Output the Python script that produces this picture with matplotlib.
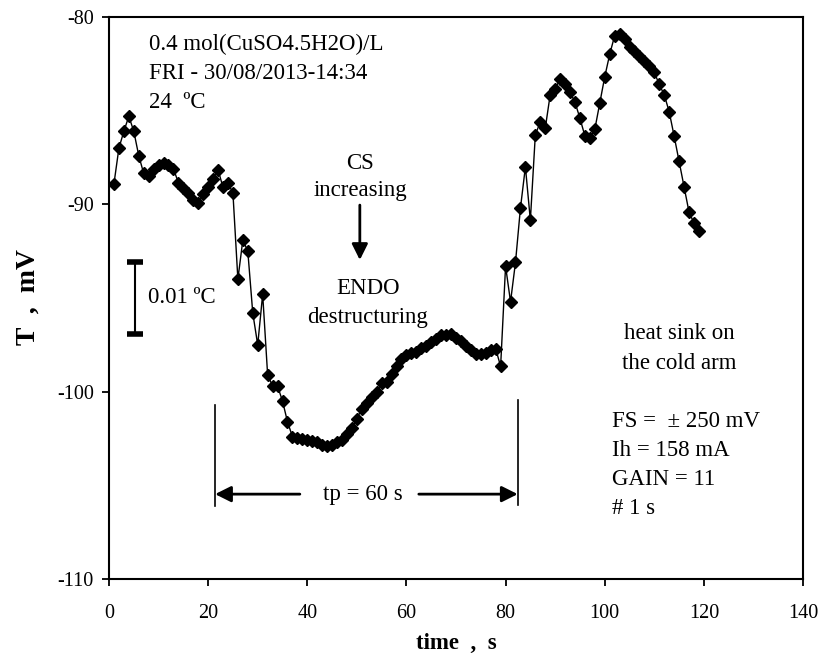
import matplotlib
matplotlib.use("Agg")
import matplotlib.pyplot as plt

plt.rcParams['font.family'] = ['Liberation Serif', 'DejaVu Serif']
plt.rcParams['axes.unicode_minus'] = False

time_s = list(range(1, 120))
signal_mV = [
    -88.9, -87.0, -86.1, -85.3, -86.1, -87.4, -88.35, -88.5, -88.1, -87.9,
    -87.8, -87.9, -88.1, -88.85, -89.15, -89.4, -89.75, -89.95, -89.45, -89.05,
    -88.65, -88.15, -89.1, -88.85, -89.4, -94.0, -91.9, -92.5, -95.8, -97.5,
    -94.8, -99.1, -99.7, -99.7, -100.5, -101.6, -102.4, -102.45, -102.5, -102.6,
    -102.65, -102.7, -102.85, -102.9, -102.85, -102.7, -102.6, -102.25, -101.95, -101.45,
    -100.9, -100.6, -100.3, -100.0, -99.55, -99.5, -99.05, -98.65, -98.25, -98.05,
    -97.95, -97.9, -97.65, -97.55, -97.35, -97.2, -96.95, -96.95, -96.9, -97.15,
    -97.3, -97.55, -97.8, -98.0, -98.0, -97.95, -97.8, -97.7, -98.65, -93.3,
    -95.2, -93.1, -90.2, -88.0, -90.85, -86.3, -85.6, -85.95, -84.15, -83.85,
    -83.3, -83.55, -84.0, -84.55, -85.4, -86.35, -86.45, -86.0, -84.6, -83.2,
    -82.0, -81.0, -80.9, -81.2, -81.6, -81.8, -82.1, -82.35, -82.6, -82.95,
    -83.6, -84.15, -85.05, -86.35, -87.7, -89.05, -90.4, -91.0, -91.45,
]

x_ticks = [0, 20, 40, 60, 80, 100, 120, 140]
y_ticks = [-110, -100, -90, -80]

info_lines = ["0.4 mol(CuSO4.5H2O)/L", "FRI - 30/08/2013-14:34", "24  ºC"]
param_lines = ["FS =  \u00b1 250 mV", "Ih = 158 mA", "GAIN = 11", "# 1 s"]

fig = plt.figure(figsize=(8.19, 6.53), dpi=100)
ax = fig.add_axes([109/819, 1-579/653, (803-109)/819, (579-17)/653])

ax.plot(time_s, signal_mV, color='black', lw=1.0, marker='D', ms=6,
        mfc='black', mec='black')

ax.set_xlim(0, 140)
ax.set_ylim(-110, -80)
ax.set_xticks(x_ticks)
ax.set_yticks(y_ticks)
ax.tick_params(direction='out', length=5, width=1.3, labelsize=14.5)
ax.tick_params(axis='x', pad=13)
ax.tick_params(axis='y', pad=6)
for s in ax.spines.values():
    s.set_linewidth(1.5)

ax.set_xlabel("time  ,  s", fontsize=16.5, fontweight='bold', va='center')
ax.xaxis.set_label_coords(0.5, (579 - 643) / 562)
ax.set_ylabel("T  ,  mV", fontsize=20, fontweight='bold', va='center')
ax.yaxis.set_label_coords((28 - 109) / 694, (579 - 297) / 562)

fs = 16.5
for i, line in enumerate(info_lines):
    ax.text(8.07, -81.44 - 1.55 * i, line, fontsize=fs, ha='left', va='center')

ax.text(50.6, -87.8, "CS", fontsize=fs, ha='center', va='center')
ax.text(50.8, -89.24, "increasing", fontsize=fs, ha='center', va='center')
ax.annotate("", xy=(50.6, -92.97), xytext=(50.6, -90.04),
            arrowprops=dict(arrowstyle='-|>', color='black', lw=2,
                            mutation_scale=24, shrinkA=0, shrinkB=0))
ax.text(52.2, -94.47, "ENDO", fontsize=fs, ha='center', va='center')
ax.text(52.2, -96.02, "destructuring", fontsize=fs, ha='center', va='center')

# scale bar
ax.plot([5.25, 5.25], [-93.1, -96.9], color='black', lw=1.5)
ax.plot([3.65, 6.85], [-93.1, -93.1], color='black', lw=4, solid_capstyle='butt')
ax.plot([3.65, 6.85], [-96.9, -96.9], color='black', lw=4, solid_capstyle='butt')
ax.text(7.9, -94.95, "0.01 ºC", fontsize=fs, ha='left', va='center')

ax.text(115, -96.87, "heat sink on", fontsize=fs, ha='center', va='center')
ax.text(115, -98.47, "the cold arm", fontsize=fs, ha='center', va='center')
for i, line in enumerate(param_lines):
    ax.text(101.5, -101.57 - 1.55 * i, line, fontsize=fs, ha='left', va='center')

# tp bracket
ax.plot([21.4, 21.4], [-100.72, -106.11], color='black', lw=1.2)
ax.plot([82.45, 82.45], [-100.45, -106.05], color='black', lw=1.2)
ax.annotate("", xy=(21.4, -105.47), xytext=(38.5, -105.47),
            arrowprops=dict(arrowstyle='-|>', color='black', lw=2,
                            mutation_scale=24, shrinkA=0, shrinkB=0))
ax.annotate("", xy=(82.45, -105.47), xytext=(62.5, -105.47),
            arrowprops=dict(arrowstyle='-|>', color='black', lw=2,
                            mutation_scale=24, shrinkA=0, shrinkB=0))
ax.text(51.2, -105.47, "tp = 60 s", fontsize=fs, ha='center', va='center')

fig.savefig("out.png", dpi=100)
